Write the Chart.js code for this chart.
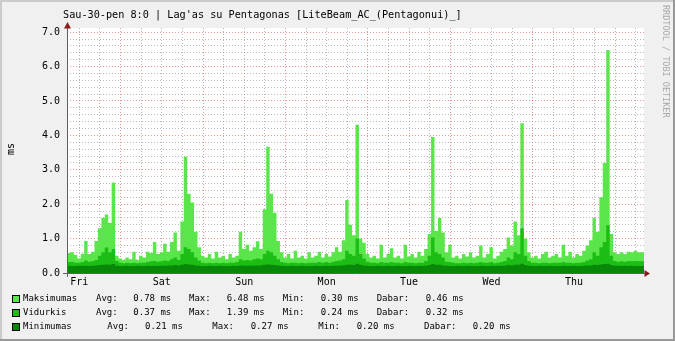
<!DOCTYPE html>
<html>
<head>
<meta charset="utf-8">
<script src="https://cdn.jsdelivr.net/npm/chart.js@4"></script>
<style>
  html, body { margin: 0; padding: 0; background: #f0f0f0; }
  #c { display: block; }
</style>
</head>
<body>
<canvas id="c" width="675" height="341"></canvas>
<script>
// Duomenys: po viena reiksme kiekvienai valandai (7 paros = 168 val.)
const dienos = ['Fri', 'Sat', 'Sun', 'Mon', 'Tue', 'Wed', 'Thu'];
const pirmasVidurnaktis = 3.6; // valandos nuo grafiko pradzios iki Fri 00:00

const maksimumas = [
  0.45, 0.58, 0.6, 0.52, 0.42, 0.56, 0.93, 0.55, 0.62, 0.93, 1.3, 1.6,
  1.7, 1.45, 2.63, 0.5, 0.42, 0.38, 0.45, 0.4, 0.62, 0.38, 0.5, 0.45,
  0.62, 0.58, 0.9, 0.55, 0.6, 0.85, 0.62, 0.9, 1.18, 0.65, 1.5, 3.38,
  2.3, 2.05, 1.2, 0.75, 0.5, 0.45, 0.55, 0.42, 0.62, 0.45, 0.5, 0.4,
  0.55, 0.45, 0.5, 1.2, 0.7, 0.82, 0.65, 0.75, 0.92, 0.7, 1.85, 3.67,
  2.3, 1.75, 0.93, 0.6, 0.45, 0.55, 0.42, 0.65, 0.45, 0.5, 0.42, 0.6,
  0.45, 0.5, 0.62, 0.45, 0.55, 0.48, 0.6, 0.75, 0.62, 0.95, 2.12, 1.4,
  1.1, 4.31, 1.0, 0.88, 0.55, 0.45, 0.5, 0.42, 0.82, 0.45, 0.55, 0.72,
  0.45, 0.5, 0.42, 0.82, 0.48, 0.55, 0.45, 0.62, 0.5, 0.7, 1.13, 3.95,
  1.22, 1.6, 1.18, 0.6, 0.82, 0.45, 0.5, 0.42, 0.55, 0.48, 0.6, 0.45,
  0.5, 0.8, 0.45, 0.55, 0.75, 0.42, 0.5, 0.62, 0.7, 1.03, 0.8, 1.5,
  1.1, 4.35, 1.0, 0.6, 0.45, 0.5, 0.42, 0.55, 0.62, 0.45, 0.5, 0.55,
  0.45, 0.82, 0.5, 0.62, 0.45, 0.55, 0.5, 0.65, 0.8, 0.95, 1.6, 1.2,
  2.2, 3.2, 6.48, 1.13, 0.6, 0.55, 0.6, 0.55, 0.62, 0.6, 0.65, 0.6
];

const vidurkis = [
  0.3, 0.32, 0.33, 0.3, 0.3, 0.32, 0.36, 0.33, 0.34, 0.38, 0.5, 0.6,
  0.74, 0.6, 0.7, 0.35, 0.3, 0.28, 0.3, 0.28, 0.3, 0.28, 0.3, 0.3,
  0.32, 0.34, 0.35, 0.33, 0.34, 0.36, 0.35, 0.4, 0.45, 0.38, 0.55, 0.75,
  0.7, 0.6, 0.45, 0.36, 0.3, 0.28, 0.3, 0.28, 0.3, 0.28, 0.3, 0.28,
  0.3, 0.3, 0.32, 0.4, 0.36, 0.38, 0.36, 0.4, 0.42, 0.4, 0.55, 0.65,
  0.6, 0.5, 0.4, 0.32, 0.3, 0.28, 0.3, 0.3, 0.28, 0.3, 0.28, 0.3,
  0.3, 0.3, 0.32, 0.3, 0.32, 0.3, 0.33, 0.35, 0.36, 0.4, 0.65, 0.55,
  0.5, 1.0, 0.55, 0.42, 0.33, 0.3, 0.3, 0.28, 0.32, 0.3, 0.3, 0.32,
  0.3, 0.3, 0.28, 0.32, 0.3, 0.3, 0.28, 0.3, 0.3, 0.35, 0.5, 1.03,
  0.6, 0.55, 0.45, 0.33, 0.32, 0.3, 0.28, 0.28, 0.3, 0.28, 0.3, 0.28,
  0.3, 0.32, 0.3, 0.3, 0.32, 0.28, 0.3, 0.32, 0.35, 0.45, 0.4, 0.6,
  0.55, 1.3, 0.5, 0.35, 0.3, 0.3, 0.28, 0.3, 0.3, 0.28, 0.3, 0.3,
  0.3, 0.32, 0.3, 0.3, 0.28, 0.3, 0.3, 0.32, 0.36, 0.4, 0.6, 0.5,
  0.75, 0.9, 1.39, 0.5, 0.35, 0.33, 0.34, 0.33, 0.35, 0.34, 0.35, 0.34
];

const minimumas = [
  0.2, 0.21, 0.2, 0.2, 0.21, 0.2, 0.21, 0.2, 0.21, 0.22, 0.23, 0.24,
  0.25, 0.24, 0.26, 0.21, 0.2, 0.2, 0.21, 0.2, 0.2, 0.21, 0.2, 0.2,
  0.21, 0.2, 0.21, 0.2, 0.21, 0.21, 0.22, 0.22, 0.23, 0.22, 0.24, 0.26,
  0.25, 0.24, 0.22, 0.21, 0.2, 0.2, 0.21, 0.2, 0.2, 0.21, 0.2, 0.2,
  0.2, 0.21, 0.2, 0.22, 0.21, 0.21, 0.22, 0.21, 0.22, 0.22, 0.24, 0.25,
  0.24, 0.23, 0.22, 0.21, 0.2, 0.2, 0.21, 0.2, 0.2, 0.21, 0.2, 0.2,
  0.2, 0.21, 0.2, 0.2, 0.21, 0.2, 0.21, 0.21, 0.22, 0.22, 0.24, 0.24,
  0.23, 0.27, 0.24, 0.22, 0.21, 0.2, 0.2, 0.21, 0.2, 0.2, 0.21, 0.2,
  0.2, 0.21, 0.2, 0.2, 0.21, 0.2, 0.2, 0.21, 0.2, 0.21, 0.23, 0.26,
  0.24, 0.24, 0.22, 0.21, 0.2, 0.2, 0.21, 0.2, 0.2, 0.21, 0.2, 0.2,
  0.2, 0.21, 0.2, 0.2, 0.21, 0.2, 0.21, 0.2, 0.21, 0.23, 0.22, 0.24,
  0.24, 0.27, 0.23, 0.21, 0.2, 0.2, 0.21, 0.2, 0.2, 0.21, 0.2, 0.2,
  0.2, 0.21, 0.2, 0.2, 0.21, 0.2, 0.2, 0.21, 0.22, 0.22, 0.24, 0.23,
  0.25, 0.26, 0.27, 0.23, 0.21, 0.21, 0.2, 0.21, 0.2, 0.21, 0.2, 0.2
];

// legenda
const legendosPavadinimai = ['Maksimumas', 'Vidurkis', 'Minimumas'];
const legendosSpalvos = ['#5ae64a', '#1cbd14', '#088708'];
const legendosAvg = ['0.78 ms', '0.37 ms', '0.21 ms'];
const legendosMax = ['6.48 ms', '1.39 ms', '0.27 ms'];
const legendosMin = ['0.30 ms', '0.24 ms', '0.20 ms'];
const legendosDabar = ['0.46 ms', '0.32 ms', '0.20 ms'];

const pavadinimas = "Sau-30-pen 8:0 | Lag'as su Pentagonas [LiteBeam_AC_(Pentagonui)_]";
const SRIFTAS = '"DejaVu Sans Mono", monospace';

function taskai(arr) {
  const pts = arr.map((v, i) => ({ x: i, y: v }));
  pts.push({ x: arr.length, y: arr[arr.length - 1] });
  return pts;
}

function srautas(label, arr, spalva) {
  return {
    label: label,
    data: taskai(arr),
    stepped: 'after',
    fill: 'origin',
    backgroundColor: spalva,
    borderWidth: 0,
    pointRadius: 0
  };
}

const xTicks = [];
for (let k = 0; pirmasVidurnaktis + 6 * k < 168; k++) xTicks.push(pirmasVidurnaktis + 6 * k);
const yTicks = [];
for (let k = 0; k <= 35; k++) yTicks.push(Math.round(k * 2) / 10);

const rrdRemas = {
  id: 'rrdRemas',
  beforeDraw(chart) {
    const ctx = chart.ctx;
    const a = chart.chartArea;
    ctx.save();
    ctx.fillStyle = '#f0f0f0';
    ctx.fillRect(0, 0, 675, 341);
    // seseliai
    ctx.fillStyle = '#cbcbcb';
    ctx.fillRect(0, 0, 675, 2);
    ctx.fillRect(0, 0, 2, 341);
    ctx.fillStyle = '#999999';
    ctx.fillRect(0, 339, 675, 2);
    ctx.fillRect(673, 0, 2, 341);
    ctx.fillStyle = '#ffffff';
    ctx.fillRect(a.left, a.top, a.right - a.left, a.bottom - a.top);
    ctx.restore();
  },
  afterDraw(chart) {
    const ctx = chart.ctx;
    const a = chart.chartArea;
    ctx.save();
    // asys
    ctx.strokeStyle = '#606060';
    ctx.lineWidth = 1;
    ctx.beginPath();
    ctx.moveTo(a.left + 0.5, a.bottom + 4);
    ctx.lineTo(a.left + 0.5, a.top - 1);
    ctx.moveTo(a.left - 4, a.bottom + 0.5);
    ctx.lineTo(a.right + 4, a.bottom + 0.5);
    ctx.stroke();
    ctx.fillStyle = '#8b1a1a';
    ctx.beginPath();
    ctx.moveTo(a.left + 0.5, a.top - 6);
    ctx.lineTo(a.left - 3, a.top + 0.5);
    ctx.lineTo(a.left + 4, a.top + 0.5);
    ctx.closePath();
    ctx.fill();
    ctx.beginPath();
    ctx.moveTo(a.right + 6, a.bottom + 0.5);
    ctx.lineTo(a.right + 0.5, a.bottom - 3);
    ctx.lineTo(a.right + 0.5, a.bottom + 4);
    ctx.closePath();
    ctx.fill();

    // pavadinimas
    ctx.fillStyle = '#000';
    ctx.font = '10.2px ' + SRIFTAS;
    ctx.textBaseline = 'alphabetic';
    ctx.textAlign = 'left';
    ctx.fillText(pavadinimas, 63, 17.5);

    // y asies pavadinimas
    ctx.save();
    ctx.translate(14, 149);
    ctx.rotate(-Math.PI / 2);
    ctx.textAlign = 'center';
    ctx.font = '10px ' + SRIFTAS;
    ctx.fillText('ms', 0, 0);
    ctx.restore();

    // vandens zenklas
    ctx.save();
    ctx.translate(663, 5);
    ctx.rotate(Math.PI / 2);
    ctx.fillStyle = '#a8a8a8';
    ctx.font = '8.5px ' + SRIFTAS;
    ctx.textAlign = 'left';
    ctx.fillText('RRDTOOL / TOBI OETIKER', 0, 0);
    ctx.restore();

    // legenda
    const eilY = [299, 313, 327];
    const stulp = [
      [96, 133.3, 189, 226.7, 282.7, 320.7, 376.7, 425.7],
      [96, 133.3, 189, 226.7, 282.7, 320.7, 376.7, 425.7],
      [107.3, 145, 212.3, 250.7, 318.3, 356.7, 424, 472.7]
    ];
    ctx.font = '9px ' + SRIFTAS;
    ctx.textBaseline = 'middle';
    for (let i = 0; i < 3; i++) {
      const y = eilY[i];
      ctx.fillStyle = '#000';
      ctx.fillRect(12, y - 4, 8, 8);
      ctx.fillStyle = legendosSpalvos[i];
      ctx.fillRect(13, y - 3, 6, 6);
      ctx.fillStyle = '#000';
      ctx.fillText(legendosPavadinimai[i], 23, y);
      const tekstai = ['Avg:', legendosAvg[i], 'Max:', legendosMax[i], 'Min:', legendosMin[i], 'Dabar:', legendosDabar[i]];
      tekstai.forEach((t, j) => ctx.fillText(t, stulp[i][j], y));
    }
    ctx.restore();
  }
};

new Chart(document.getElementById('c'), {
  type: 'line',
  data: {
    datasets: [
      srautas('Minimumas', minimumas, '#088708'),
      srautas('Vidurkis', vidurkis, '#1cbd14'),
      srautas('Maksimumas', maksimumas, '#5ae64a')
    ]
  },
  plugins: [rrdRemas],
  options: {
    responsive: false,
    animation: false,
    devicePixelRatio: 1,
    layout: { padding: { left: 0, right: 31, top: 28, bottom: 53 } },
    plugins: { legend: { display: false }, tooltip: { enabled: false }, title: { display: false } },
    scales: {
      x: {
        type: 'linear',
        min: 0,
        max: 168,
        z: 1,
        afterBuildTicks: s => { s.ticks = xTicks.map(v => ({ value: v })); },
        afterFit: s => { s.height = 15; },
        border: { display: false, dash: [1, 2] },
        grid: {
          drawTicks: false,
          color: c => (c.index % 4 === 2 ? 'rgba(222,80,80,0.6)' : 'rgba(130,130,130,0.55)'),
          lineWidth: 1
        },
        ticks: {
          autoSkip: false,
          maxRotation: 0,
          padding: 3,
          color: '#000',
          font: { family: SRIFTAS, size: 10 },
          callback: (v, i) => (i % 4 === 0 ? dienos[i / 4] : '')
        }
      },
      y: {
        min: 0,
        max: 7.12,
        z: 1,
        afterBuildTicks: s => { s.ticks = yTicks.map(v => ({ value: v })); },
        afterFit: s => { s.width = 67; },
        border: { display: false, dash: [1, 2] },
        grid: {
          drawTicks: false,
          color: c => (c.index % 5 === 0 ? 'rgba(222,80,80,0.6)' : 'rgba(130,130,130,0.55)'),
          lineWidth: 1
        },
        ticks: {
          autoSkip: false,
          padding: 7,
          color: '#000',
          font: { family: SRIFTAS, size: 10 },
          callback: (v, i) => (i % 5 === 0 ? (i / 5).toFixed(1) : '')
        }
      }
    }
  }
});
</script>
</body>
</html>
